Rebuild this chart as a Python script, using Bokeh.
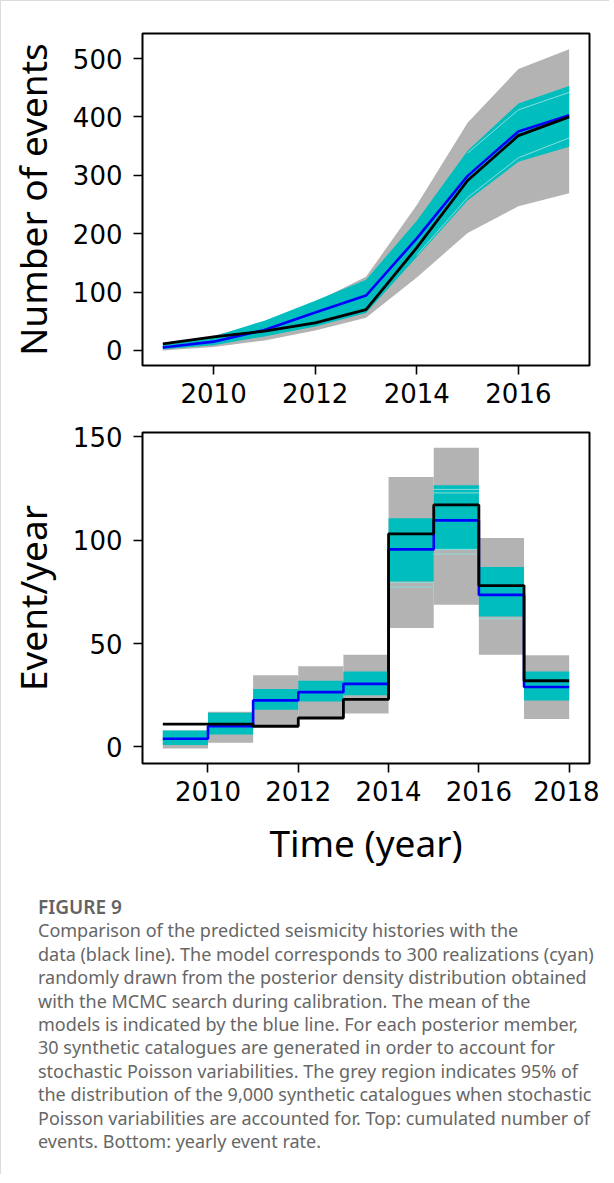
from bokeh.plotting import figure
from bokeh.models import FixedTicker, Range1d, Div
from bokeh.layouts import column
from bokeh.embed import file_html
from bokeh.resources import INLINE

# ---------------- data: top panel (cumulated number of events) ----------------
years_top = [2009, 2010, 2011, 2012, 2013, 2014, 2015, 2016, 2017]
cum_obs = [11, 23, 33, 47, 70, 176, 291, 368, 400]
cum_mean = [5, 15, 35, 65, 94, 192, 299, 375, 403]
cum_cyan_lo = [2, 9, 24, 41, 64, 160, 257, 323, 349]
cum_cyan_hi = [9, 24, 51, 85, 121, 222, 342, 423, 453]
cum_grey_lo = [0, 6, 17, 34, 56, 125, 201, 247, 269]
cum_grey_hi = [10, 25, 48, 83, 126, 249, 390, 482, 516]
light_cum_a_years = [2014, 2015, 2016, 2017]
light_cum_a = [163, 262, 330, 364]
light_cum_b_years = [2015, 2016, 2017]
light_cum_b = [338, 412, 442]
top_xticks = [2010, 2012, 2014, 2016]
top_yticks = [0, 100, 200, 300, 400, 500]

# ---------------- data: bottom panel (yearly event rate) ----------------
bin_start = [2009, 2010, 2011, 2012, 2013, 2014, 2015, 2016, 2017]
bin_end = [2010, 2011, 2012, 2013, 2014, 2015, 2016, 2017, 2018]
rate_obs = [11, 11, 10, 14, 23, 103, 117, 78, 32]
rate_mean = [4, 10, 22.5, 26.5, 30.5, 95.5, 109.5, 73.5, 29]
rate_cyan_lo = [1, 6, 18, 22, 25, 80, 95.5, 63, 22.5]
rate_cyan_hi = [8, 16.5, 28, 32, 36.5, 110.5, 126.5, 87, 36.5]
rate_grey_lo = [-0.7, 2, 9.8, 13.5, 16.2, 57.5, 68.7, 44.6, 13.5]
rate_grey_hi = [8, 17, 34.7, 39, 44.6, 130.5, 144.6, 101, 44.3]
light_rate_start = [2014, 2014, 2015, 2015, 2015, 2015, 2016]
light_rate_value = [79.5, 77.3, 124.5, 122.8, 95.5, 93.2, 62.0]
bot_xticks = [2010, 2012, 2014, 2016, 2018]
bot_yticks = [0, 50, 100, 150]

CYAN = "#00bebe"
GREY = "#b3b3b3"
LIGHT = "#8edcdc"
TICK_FONT = "DejaVu Sans"
LABEL_FONT = "Noto Sans"


def style(p, xticks, yticks):
    p.grid.visible = False
    p.outline_line_color = "black"
    p.outline_line_width = 2
    for ax in (p.xaxis[0], p.yaxis[0]):
        ax.axis_line_color = None
        ax.major_tick_line_color = "black"
        ax.major_tick_line_width = 1.6
        ax.major_tick_out = 9
        ax.major_tick_in = 0
        ax.minor_tick_line_color = None
        ax.major_label_text_font = TICK_FONT
        ax.major_label_text_font_size = "26px"
        ax.major_label_text_color = "black"
        ax.axis_label_text_font = LABEL_FONT
        ax.axis_label_text_font_size = "37px"
        ax.axis_label_text_font_style = "normal"
        ax.axis_label_text_color = "black"
    p.xaxis[0].ticker = FixedTicker(ticks=xticks)
    p.yaxis[0].ticker = FixedTicker(ticks=yticks)
    p.xaxis[0].major_label_standoff = 8
    p.yaxis[0].major_label_standoff = 11
    p.yaxis[0].axis_label_standoff = 12


# ---------------- top figure ----------------
p1 = figure(frame_width=447, frame_height=332, min_border_left=141, min_border_right=10,
            min_border_top=32, min_border_bottom=52,
            x_range=Range1d(2008.6, 2017.4), y_range=Range1d(-25.85, 542.85),
            output_backend="svg", toolbar_location=None)
style(p1, top_xticks, top_yticks)
p1.yaxis[0].axis_label = "Number of events"

p1.varea(x=years_top, y1=cum_grey_lo, y2=cum_grey_hi, fill_color=GREY)
p1.varea(x=years_top, y1=cum_cyan_lo, y2=cum_cyan_hi, fill_color=CYAN)
p1.line(light_cum_a_years, light_cum_a, line_color=LIGHT, line_width=1)
p1.line(light_cum_b_years, light_cum_b, line_color=LIGHT, line_width=1)
p1.line(years_top, cum_mean, line_color="#0000ff", line_width=2.6)
p1.line(years_top, cum_obs, line_color="black", line_width=2.8)

# ---------------- bottom figure ----------------
p2 = figure(frame_width=447, frame_height=331, min_border_left=141, min_border_right=10,
            min_border_top=15, min_border_bottom=119,
            x_range=Range1d(2008.55, 2018.45), y_range=Range1d(-8, 152),
            output_backend="svg", toolbar_location=None)
style(p2, bot_xticks, bot_yticks)
p2.yaxis[0].axis_label = "Event/year"
p2.xaxis[0].axis_label = "Time (year)"
p2.xaxis[0].axis_label_standoff = 13

p2.quad(left=bin_start, right=bin_end, bottom=rate_grey_lo, top=rate_grey_hi,
        fill_color=GREY, line_color=None)
p2.quad(left=bin_start, right=bin_end, bottom=rate_cyan_lo, top=rate_cyan_hi,
        fill_color=CYAN, line_color=None)
p2.segment(x0=light_rate_start, x1=[s + 1 for s in light_rate_start],
           y0=light_rate_value, y1=light_rate_value, line_color=LIGHT, line_width=1)
step_x = bin_start + [bin_end[-1]]
p2.step(x=step_x, y=rate_mean + [rate_mean[-1]], mode="after",
        line_color="#0000ff", line_width=2.6)
p2.step(x=step_x, y=rate_obs + [rate_obs[-1]], mode="after",
        line_color="black", line_width=2.8)

# ---------------- caption ----------------
caption_lines = [
    "Comparison of the predicted seismicity histories with the",
    "data (black line). The model corresponds to 300 realizations (cyan)",
    "randomly drawn from the posterior density distribution obtained",
    "with the MCMC search during calibration. The mean of the",
    "models is indicated by the blue line. For each posterior member,",
    "30 synthetic catalogues are generated in order to account for",
    "stochastic Poisson variabilities. The grey region indicates 95% of",
    "the distribution of the 9,000 synthetic catalogues when stochastic",
    "Poisson variabilities are accounted for. Top: cumulated number of",
    "events. Bottom: yearly event rate.",
]
caption_html = (
    '<div style="font-family:\'Noto Sans\';font-size:19px;font-weight:600;color:#636363;'
    'line-height:23.4px;white-space:nowrap;">FIGURE 9</div>'
    '<div style="font-family:\'Noto Sans\';font-size:18px;color:#666666;line-height:23.4px;'
    'white-space:pre;">' + "<br>".join(caption_lines) + "</div>"
)
div = Div(text=caption_html, width=598, height=282,
          styles={"padding-left": "32px", "padding-top": "9px", "box-sizing": "border-box"})

layout = column(p1, p2, div, spacing=0,
                styles={"border-top": "1px solid #dcdcdc", "border-left": "1px solid #dcdcdc"})

open("out.html", "w").write(file_html(layout, INLINE))
